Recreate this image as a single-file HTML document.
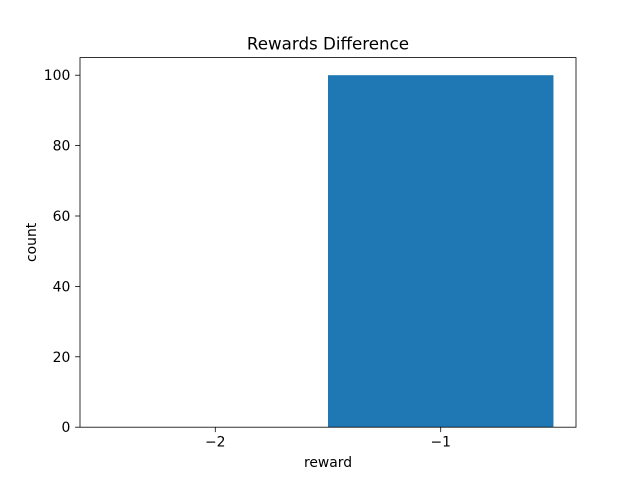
<!DOCTYPE html>
<html><head><meta charset="utf-8"><style>body{margin:0;background:#fff}svg{font-family:"DejaVu Sans","Liberation Sans",sans-serif}</style></head>
<body>
<svg id="chart" width="640" height="480" xmlns="http://www.w3.org/2000/svg"></svg>
<script>
const categories = [-2, -1];
const counts = [0, 100];
const xTicks = [-2, -1];
const xTickLabels = ["\u22122", "\u22121"];
const yTicks = [0, 20, 40, 60, 80, 100];

const L=80,R=576,T=57.6,B=427.2;
const xMin=-2.6,xMax=-0.4,yMin=0,yMax=105;
const sx=v=>L+(v-xMin)/(xMax-xMin)*(R-L);
const sy=v=>B-(v-yMin)/(yMax-yMin)*(B-T);
const svg=document.getElementById('chart');
const NS='http://www.w3.org/2000/svg';
function mk(tag,attrs,parent){const e=document.createElementNS(NS,tag);for(const k in attrs)e.setAttribute(k,attrs[k]);(parent||svg).appendChild(e);return e;}

categories.forEach((c,i)=>{
  const y0=sy(0),y1=sy(counts[i]);
  const r=mk('rect',{x:sx(c-0.5),y:Math.min(y0,y1),width:sx(c+0.5)-sx(c-0.5),height:Math.abs(y0-y1),fill:'#1f77b4'});
  
  
});
const frame=mk('rect',{x:L,y:T,width:R-L,height:B-T,fill:'none',stroke:'#000','stroke-width':0.8});



xTicks.forEach((t,i)=>{
  const x=sx(t);
  const tk=mk('line',{x1:x,x2:x,y1:B,y2:B+4.9,stroke:'#000','stroke-width':0.8});
  
  
  const tx=mk('text',{x:x,y:B+19.5,'text-anchor':'middle','font-size':13.9});
  tx.textContent=xTickLabels[i];
  
  
});
yTicks.forEach(t=>{
  const y=sy(t);
  const tk=mk('line',{x1:L-4.9,x2:L,y1:y,y2:y,stroke:'#000','stroke-width':0.8});
  
  
  const tx=mk('text',{x:L-9.7,y:y+5,'text-anchor':'end','font-size':13.9});
  tx.textContent=t;
  
  
});
const title=mk('text',{x:(L+R)/2,y:49.5,'text-anchor':'middle','font-size':16.7});
title.textContent='Rewards Difference';


const xl=mk('text',{x:(L+R)/2,y:467,'text-anchor':'middle','font-size':13.9});
xl.textContent='reward';


const yl=mk('text',{x:0,y:0,'text-anchor':'middle','font-size':13.9,transform:'translate(36,'+((T+B)/2)+') rotate(-90)'});
yl.textContent='count';


</script>
</body></html>
